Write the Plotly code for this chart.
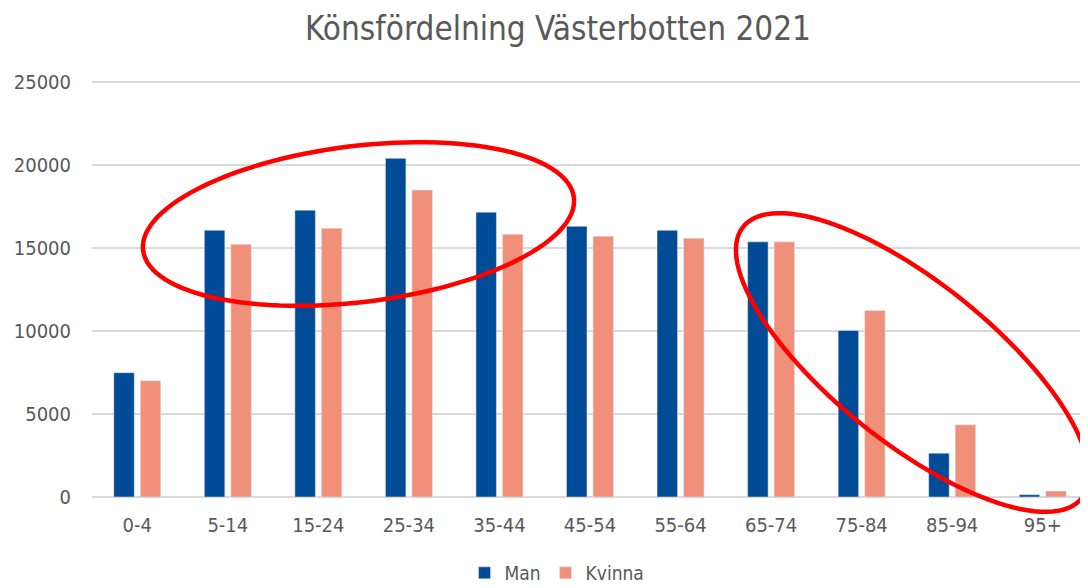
import math
import plotly.graph_objects as go

# ---- data ----
age_groups = ["0-4", "5-14", "15-24", "25-34", "35-44", "45-54",
              "55-64", "65-74", "75-84", "85-94", "95+"]
man = [7490, 16070, 17280, 20400, 17160, 16310, 16070, 15370, 10030, 2640, 140]
kvinna = [7010, 15230, 16190, 18490, 15830, 15710, 15590, 15370, 11240, 4350, 360]
y_ticks = [0, 5000, 10000, 15000, 20000, 25000]
y_tick_labels = ["0", "5000", "10000", "15000", "20000", "25000"]
title_text = "Könsfördelning Västerbotten 2021"

# ---- layout constants (page body has an 8px margin) ----
OFF = 8
W, H = 1088 - OFF, 588 - OFF
ML, MR, MT, MB = 92 - OFF, 0, 75 - OFF, 91
PW, PH = W - ML - MR, H - MT - MB
Y_TOP = 25000 * PH / 415.0  # keeps 25000 gridline inside the plot

FONT = "Liberation Sans Narrow, DejaVu Sans Condensed, Arial Narrow, Liberation Sans, sans-serif"
GRAY = "#595959"

fig = go.Figure()
fig.add_trace(go.Bar(name="Man", x=age_groups, y=man, marker_color="#024C97"))
fig.add_trace(go.Bar(name="Kvinna", x=age_groups, y=kvinna, marker_color="#F0907A"))


def ellipse_path(cx, cy, a, b, theta_deg, n=120):
    """Ellipse given in page pixels, returned as a paper-ref path."""
    t = math.radians(theta_deg)
    pts = []
    for i in range(n):
        p = 2 * math.pi * i / n
        x = cx + a * math.cos(p) * math.cos(t) - b * math.sin(p) * math.sin(t) - OFF
        y = cy + a * math.cos(p) * math.sin(t) + b * math.sin(p) * math.cos(t) - OFF
        px = (x - ML) / PW
        py = (MT + PH - y) / PH
        pts.append(f"{px:.5f},{py:.5f}")
    return "M " + " L ".join(pts) + " Z"


shapes = [
    dict(type="path", xref="paper", yref="paper",
         path=ellipse_path(358.5, 224, 217, 78, -7.0),
         line=dict(color="#FF0000", width=4.5)),
    dict(type="path", xref="paper", yref="paper",
         path=ellipse_path(912.5, 362.5, 217, 80, 38.7),
         line=dict(color="#FF0000", width=4.5)),
]

fig.update_layout(
    width=W, height=H,
    margin=dict(l=ML, r=MR, t=MT, b=MB, pad=0, autoexpand=False),
    paper_bgcolor="white", plot_bgcolor="white",
    title=dict(text=title_text, x=(558 - OFF) / W, xanchor="center",
               y=1 - (28 - OFF) / H, yanchor="middle",
               font=dict(family=FONT, size=33, color=GRAY)),
    barmode="group", bargap=0.415, bargroupgap=0.226,
    font=dict(family=FONT, color=GRAY, size=20),
    xaxis=dict(showgrid=False, showline=False, ticks="", zeroline=False,
               automargin=False,
               tickfont=dict(size=20, color=GRAY), ticklabelstandoff=14),
    yaxis=dict(range=[0, Y_TOP], tickvals=y_ticks, ticktext=y_tick_labels,
               showgrid=True, automargin=False,
               gridcolor="#D9D9D9", gridwidth=2, zeroline=True,
               zerolinecolor="#D9D9D9", zerolinewidth=2, showline=False,
               ticks="", tickfont=dict(size=20, color=GRAY), ticklabelstandoff=20),
    legend=dict(orientation="h", x=(557 - OFF - ML) / PW, xanchor="center",
                y=-(573 - OFF - (MT + PH)) / PH, yanchor="middle",
                font=dict(size=19, color=GRAY), itemwidth=30,
                bgcolor="rgba(0,0,0,0)"),
    shapes=shapes,
    showlegend=True,
)

fig.write_html("out.html")
